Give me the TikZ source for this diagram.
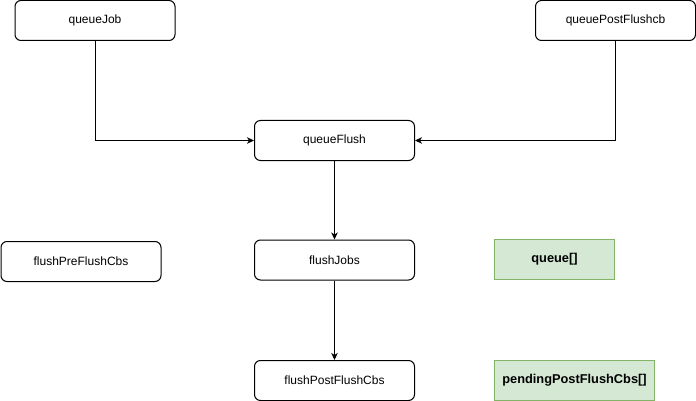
\documentclass[tikz,border=0pt]{standalone}
\usepackage{fontspec}
\setmainfont{Liberation Sans}
\usetikzlibrary{arrows.meta}
\definecolor{gfill}{HTML}{D5E8D4}
\definecolor{gdraw}{HTML}{82B366}
\begin{document}
\begin{tikzpicture}[x=1pt,y=-1pt,
  fnbox/.style={draw=black,line width=1pt,rounded corners=6pt,minimum width=160pt,minimum height=40pt,inner sep=0pt,font=\fontsize{12pt}{14pt}\selectfont},
  databox/.style={draw=gdraw,fill=gfill,line width=1pt,minimum height=40pt,inner sep=0pt,font=\fontsize{12.8pt}{14pt}\selectfont\bfseries},
  conn/.style={line width=1pt,-{Stealth[length=7pt,width=6.5pt,inset=2pt]}}]
\useasboundingbox (0,0) rectangle (696,401);
\node[fnbox] (qj) at (95,20.5) {queueJob};
\node[fnbox] (qp) at (615.5,20.5) {queuePostFlushcb};
\node[fnbox] (qf) at (334.5,140.5) {queueFlush};
\node[fnbox] (fpre) at (81,261.5) {flushPreFlushCbs};
\node[fnbox] (fj) at (334.5,260) {flushJobs};
\node[databox,minimum width=120pt] (q) at (554.5,259.5) {queue[]};
\node[fnbox] (fpost) at (334.5,380.5) {flushPostFlushCbs};
\node[databox,minimum width=160pt] (pp) at (574.5,380) {pendingPostFlushCbs[]};
\draw[conn] (qj.south) |- (qf.west);
\draw[conn] (qp.south) |- (qf.east);
\draw[conn] (qf) -- (fj);
\draw[conn] (fj) -- (fpost);
\end{tikzpicture}
\end{document}
